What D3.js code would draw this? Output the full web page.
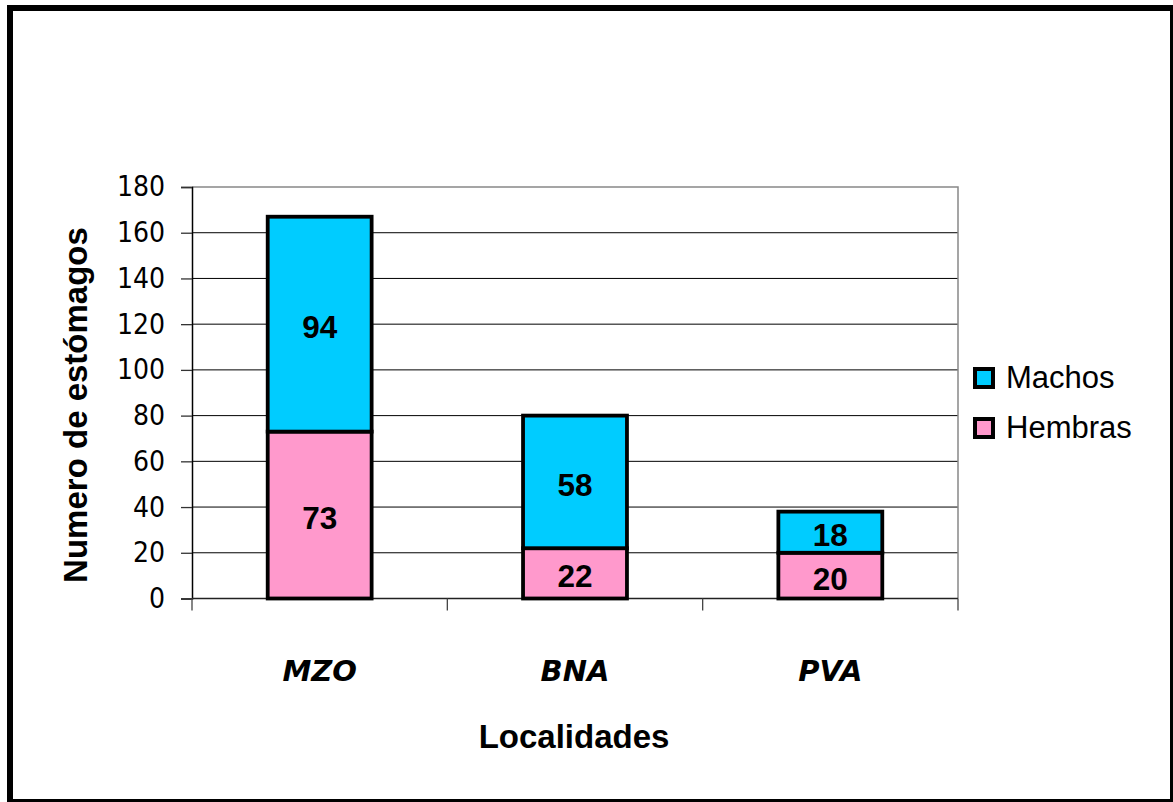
<!DOCTYPE html>
<html><head><meta charset="utf-8">
<script src="https://cdn.jsdelivr.net/npm/d3@7"></script>
<style>body{margin:0;background:#fff}svg{display:block}</style>
</head><body>
<script>
const categories = ["MZO","BNA","PVA"];
const hembras = [73,22,20];
const machos = [94,58,18];
const seriesNames = ["Hembras","Machos"];
const yTicks = [0,20,40,60,80,100,120,140,160,180];

const W=1173,H=802;
const svg=d3.select("body").append("svg").attr("width",W).attr("height",H);
svg.append("rect").attr("width",W).attr("height",H).attr("fill","#fff");
svg.append("rect").attr("x",10).attr("y",8).attr("width",1163).attr("height",794)
  .attr("fill","none").attr("stroke","#000").attr("stroke-width",6);

const L=192,R=958,T=187,B=598.5;
const x=d3.scaleBand().domain(categories).range([L,R]).paddingInner(0.593).paddingOuter(0.2965);
const y=d3.scaleLinear().domain([0,180]).range([B,T]);
const band=(R-L)/categories.length;

// gridlines
svg.append("g").selectAll("line").data(yTicks.filter(d=>d>0&&d<180)).join("line")
  .attr("x1",L).attr("x2",R).attr("y1",d=>y(d)).attr("y2",d=>y(d))
  .attr("stroke","#000").attr("stroke-width",1);
// plot border top/right
svg.append("path").attr("d",`M${L},${y(180)}H${R}V${B}`).attr("fill","none").attr("stroke","#888").attr("stroke-width",1.5);

// y axis
const ya=svg.append("g").attr("transform",`translate(${L},0)`)
  .call(d3.axisLeft(y).tickValues(yTicks).tickSize(11).tickPadding(16));
ya.select(".domain").attr("stroke","#000").attr("stroke-width",1.5);
ya.selectAll(".tick line").attr("stroke","#333").attr("stroke-width",1.3);
ya.selectAll("text").attr("font-family","'DejaVu Sans Condensed','DejaVu Sans',sans-serif")
  .attr("font-size",28).attr("fill","#000");

// x axis line and category ticks
svg.append("line").attr("x1",L).attr("x2",R).attr("y1",B).attr("y2",B).attr("stroke","#222").attr("stroke-width",1.5);
svg.append("g").selectAll("line").data(d3.range(categories.length+1)).join("line")
  .attr("x1",i=>L+i*band).attr("x2",i=>L+i*band).attr("y1",B).attr("y2",B+12)
  .attr("stroke","#444").attr("stroke-width",1.3);

const data=categories.map((c,i)=>({cat:c,Hembras:hembras[i],Machos:machos[i]}));
const stack=d3.stack().keys(seriesNames)(data);
const colors={Hembras:"#FF99CC",Machos:"#00CCFF"};

const g=svg.append("g");
stack.forEach(s=>{
  g.selectAll(null).data(s).join("rect")
    .attr("x",d=>x(d.data.cat)).attr("width",x.bandwidth())
    .attr("y",d=>y(d[1])).attr("height",d=>y(d[0])-y(d[1]))
    .attr("fill",colors[s.key]).attr("stroke","#000").attr("stroke-width",3.8);
});
stack.forEach(s=>{
  g.selectAll(null).data(s).join("text")
    .attr("x",d=>x(d.data.cat)+x.bandwidth()/2)
    .attr("y",d=>(y(d[0])+y(d[1]))/2+3)
    .attr("text-anchor","middle").attr("dominant-baseline","central")
    .attr("font-family","'Liberation Sans',Arial,sans-serif").attr("font-weight","bold")
    .attr("font-size",31.5).attr("fill","#000")
    .text(d=>d[1]-d[0]);
});

// category labels
svg.append("g").selectAll("text").data(categories).join("text")
  .attr("x",d=>x(d)+x.bandwidth()/2).attr("y",681)
  .attr("text-anchor","middle")
  .attr("font-family","'DejaVu Sans',sans-serif").attr("font-weight","bold").attr("font-style","italic")
  .attr("font-size",29).attr("fill","#000").text(d=>d);

// axis titles
svg.append("text").attr("x",(L+R)/2-1).attr("y",748).attr("text-anchor","middle")
  .attr("font-family","'Liberation Sans',Arial,sans-serif").attr("font-weight","bold")
  .attr("font-size",33).text("Localidades");
svg.append("text").attr("transform",`translate(87,405) rotate(-90)`).attr("text-anchor","middle")
  .attr("font-family","'Liberation Sans',Arial,sans-serif").attr("font-weight","bold")
  .attr("font-size",33).text("Numero de estómagos");

// legend
const leg=[{k:"Machos",y:378},{k:"Hembras",y:428}];
const lg=svg.append("g").selectAll("g").data(leg).join("g");
lg.append("rect").attr("x",975).attr("y",d=>d.y-9).attr("width",18).attr("height",18)
  .attr("fill",d=>colors[d.k]).attr("stroke","#000").attr("stroke-width",4);
lg.append("text").attr("x",1006).attr("y",d=>d.y+10)
  .attr("font-family","'Liberation Sans',Arial,sans-serif").attr("font-size",31).text(d=>d.k);
</script>
</body></html>
